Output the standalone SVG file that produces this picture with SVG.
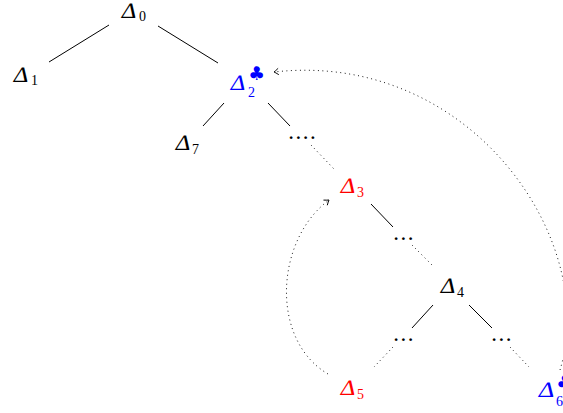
<svg xmlns="http://www.w3.org/2000/svg" width="563" height="413" viewBox="0 0 563 413">
<style>
.d{font-family:"Liberation Serif",serif;font-size:22px}
.s{font-family:"Liberation Serif",serif;font-size:14px}
.c{font-family:"DejaVu Sans",sans-serif;font-size:19px}
.e{font-family:"Liberation Serif",serif;font-size:17px;letter-spacing:3px;font-weight:bold}
.k{fill:#000}.b{fill:#0000ff}.r{fill:#ff0000}
.l{stroke:#000;stroke-width:1;fill:none}
.t{stroke:#000;stroke-width:1;fill:none;stroke-dasharray:0.9 3.6;stroke-linecap:butt}
</style>
<defs>
<marker id="ar" markerWidth="10" markerHeight="10" refX="0" refY="0" viewBox="-6 -5 8 10" orient="auto" markerUnits="userSpaceOnUse">
<path d="M-4.5,-3.2 Q-1.5,-0.8 0,0 Q-1.5,0.8 -4.5,3.2" fill="none" stroke="#000" stroke-width="0.9"/>
</marker>
</defs>
<g id="connectors">
<line class="l" x1="109" y1="25" x2="49" y2="62"/>
<line class="l" x1="158" y1="26" x2="218" y2="63"/>
<line class="l" x1="224" y1="103" x2="203" y2="126"/>
<line class="l" x1="268" y1="103" x2="290" y2="126"/>
<line class="t" x1="311" y1="145" x2="334" y2="169"/>
<line class="l" x1="371" y1="204" x2="393" y2="227"/>
<line class="t" x1="412" y1="245" x2="432" y2="265"/>
<line class="l" x1="433" y1="305" x2="412" y2="328"/>
<line class="l" x1="469" y1="305" x2="492" y2="328"/>
<line class="t" x1="393" y1="347" x2="374" y2="367"/>
<line class="t" x1="510" y1="347" x2="529" y2="367"/>
<path class="t" d="M328,374 C270,340 275,240 329,200" marker-end="url(#ar)"/>
<path class="t" d="M560,370 C600,240 470,50 274,72" marker-end="url(#ar)"/>
</g>
<g id="n0" class="k"><text class="d" transform="translate(120,18) skewX(-12)" textLength="16" lengthAdjust="spacingAndGlyphs">Δ</text><text class="s" x="139" y="21">0</text></g>
<g id="n1" class="k"><text class="d" transform="translate(12,82) skewX(-12)" textLength="16" lengthAdjust="spacingAndGlyphs">Δ</text><text class="s" x="31" y="85">1</text></g>
<g id="n2" class="b"><text class="d" transform="translate(229,90) skewX(-12)" textLength="16" lengthAdjust="spacingAndGlyphs">Δ</text><text class="s" x="248" y="97">2</text><text class="c" x="248" y="80">♣</text></g>
<g id="n7" class="k"><text class="d" transform="translate(174,150) skewX(-12)" textLength="16" lengthAdjust="spacingAndGlyphs">Δ</text><text class="s" x="192" y="154">7</text></g>
<g id="e1" class="k"><text class="e" x="289" y="139">....</text></g>
<g id="n3" class="r"><text class="d" transform="translate(339,193) skewX(-12)" textLength="16" lengthAdjust="spacingAndGlyphs">Δ</text><text class="s" x="357" y="197">3</text></g>
<g id="e2" class="k"><text class="e" x="394" y="240">...</text></g>
<g id="n4" class="k"><text class="d" transform="translate(439,293) skewX(-12)" textLength="16" lengthAdjust="spacingAndGlyphs">Δ</text><text class="s" x="457" y="297">4</text></g>
<g id="e3" class="k"><text class="e" x="394" y="341">...</text></g>
<g id="e4" class="k"><text class="e" x="492" y="341">...</text></g>
<g id="n5" class="r"><text class="d" transform="translate(339,395) skewX(-12)" textLength="16" lengthAdjust="spacingAndGlyphs">Δ</text><text class="s" x="357" y="399">5</text></g>
<g id="n6" class="b"><text class="d" transform="translate(537,397) skewX(-12)" textLength="17" lengthAdjust="spacingAndGlyphs">Δ</text><text class="s" x="556" y="406">6</text><text class="c" x="556" y="389">♣</text></g>
</svg>
